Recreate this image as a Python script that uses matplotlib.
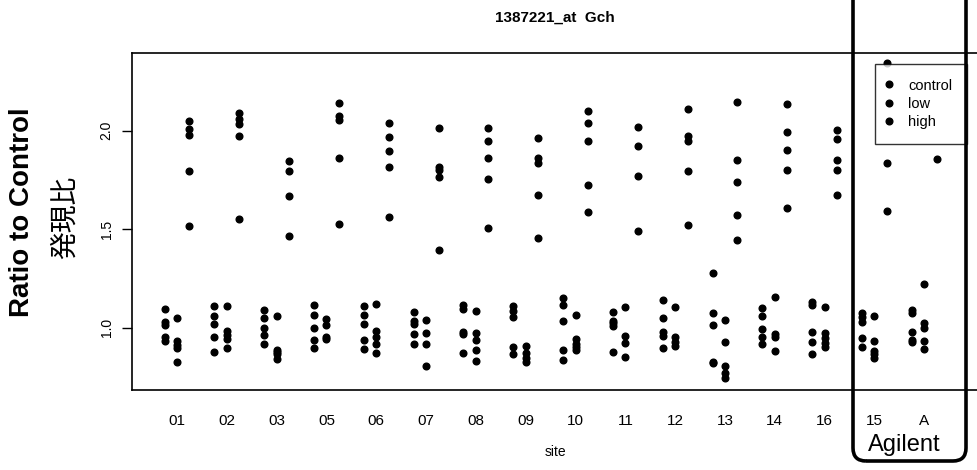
import numpy as np
import matplotlib
matplotlib.use('Agg')
import matplotlib.pyplot as plt
from matplotlib.patches import FancyBboxPatch
from matplotlib.transforms import IdentityTransform

plt.rcParams['font.family'] = ['Liberation Sans', 'DejaVu Sans']

sites = ['01', '02', '03', '05', '06', '07', '08', '09', '10', '11', '12', '13', '14', '16', '15', 'A']

control = [
    [1.095, 1.027, 1.012, 0.954, 0.931],
    [1.109, 1.058, 1.017, 0.954, 0.878],
    [1.090, 1.051, 0.998, 0.961, 0.917],
    [1.115, 1.063, 1.000, 0.938, 0.898],
    [1.110, 1.063, 1.019, 0.938, 0.892],
    [1.078, 1.035, 1.020, 0.966, 0.917],
    [1.115, 1.097, 0.980, 0.968, 0.872],
    [1.110, 1.083, 1.056, 0.904, 0.865],
    [1.149, 1.115, 1.032, 0.885, 0.834],
    [1.078, 1.036, 1.022, 1.010, 0.878],
    [1.141, 1.051, 0.977, 0.960, 0.897],
    [1.279, 1.076, 1.012, 0.826, 0.819],
    [1.098, 1.061, 0.992, 0.953, 0.917],
    [1.129, 1.115, 0.980, 0.929, 0.865],
    [1.073, 1.056, 1.027, 0.946, 0.902],
    [1.090, 1.073, 0.980, 0.938, 0.926],
]

low = [
    [1.051, 0.934, 0.912, 0.895, 0.826],
    [1.109, 0.985, 0.963, 0.941, 0.898],
    [1.058, 0.887, 0.875, 0.865, 0.840],
    [1.044, 1.012, 0.954, 0.941],
    [1.122, 0.985, 0.954, 0.917, 0.873],
    [1.037, 0.975, 0.917, 0.807],
    [1.083, 0.975, 0.936, 0.885, 0.832],
    [0.909, 0.870, 0.848, 0.827],
    [1.063, 0.943, 0.915, 0.900, 0.887],
    [1.107, 0.959, 0.922, 0.853],
    [1.107, 0.951, 0.926, 0.907],
    [1.037, 0.929, 0.806, 0.772, 0.745],
    [1.157, 0.966, 0.951, 0.882],
    [1.107, 0.975, 0.946, 0.921, 0.904],
    [1.059, 0.934, 0.882, 0.865, 0.848],
    [1.222, 1.022, 0.997, 0.934, 0.890],
]

high = [
    [2.051, 2.009, 1.977, 1.795, 1.518],
    [2.088, 2.059, 2.032, 1.974, 1.552],
    [1.847, 1.796, 1.667, 1.467],
    [2.139, 2.075, 2.055, 1.860, 1.525],
    [2.041, 1.970, 1.898, 1.814, 1.563],
    [2.014, 1.817, 1.800, 1.766, 1.394],
    [2.014, 1.949, 1.860, 1.756, 1.504],
    [1.961, 1.860, 1.834, 1.672, 1.454],
    [2.098, 2.039, 1.949, 1.722, 1.587],
    [2.021, 1.923, 1.768, 1.492],
    [2.112, 1.973, 1.945, 1.794, 1.523],
    [2.147, 1.851, 1.741, 1.574, 1.445],
    [2.135, 1.992, 1.902, 1.799, 1.606],
    [2.005, 1.958, 1.851, 1.799, 1.676],
    [2.342, 1.838, 1.594],
    [1.856],
]

groups = [('control', control, -0.25), ('low', low, 0.0), ('high', high, 0.25)]

fig = plt.figure(figsize=(9.77, 4.70), dpi=100)
ax = fig.add_axes([131.7 / 977, 1 - 390 / 470, 1 - 131.7 / 977, (390 - 53) / 470])

xpos = np.arange(1, len(sites) + 1)
for name, data, off in groups:
    xs = []
    ys = []
    for i, vals in enumerate(data):
        xs += [xpos[i] + off] * len(vals)
        ys += vals
    ax.plot(xs, ys, 'o', color='black', markersize=4.8, linestyle='None', label=name)

ax.set_xlim(0.09, 17.06)
ax.set_ylim(0.684, 2.394)

ax.set_xticks(xpos)
ax.set_xticklabels(sites, fontsize=11)
ax.tick_params(axis='x', length=0, pad=17)
ax.set_yticks([1.0, 1.5, 2.0])
ax.set_yticklabels(['1.0', '1.5', '2.0'], rotation=90, va='center', fontsize=10)
ax.tick_params(axis='y', length=7, width=1, pad=6)
ax.spines['right'].set_visible(False)
for s in ['left', 'bottom', 'top']:
    ax.spines[s].set_linewidth(1.2)

# legend box sits over the top right corner, hides some of the 15/A highs
leg = ax.legend(loc='upper right', bbox_to_anchor=(967 / 977, 1 - 64 / 470),
                bbox_transform=fig.transFigure, fontsize=10.5, frameon=True,
                fancybox=False, handlelength=0, handletextpad=1.3,
                labelspacing=0.3, borderpad=1.0, borderaxespad=0)
leg.get_frame().set_edgecolor('black')
leg.get_frame().set_linewidth(1.0)

fig.text(555 / 977, 1 - 18 / 470, '1387221_at  Gch', ha='center', va='center',
         fontsize=11, fontweight='bold')
fig.text(555 / 977, 1 - 452 / 470, 'site', ha='center', va='center', fontsize=10)
fig.text(22 / 977, 1 - 212 / 470, 'Ratio to Control', rotation=90, ha='center',
         va='center', fontsize=20, fontweight='bold')
fig.text(65 / 977, 1 - 217 / 470, '発現比', rotation=90, ha='center', va='center',
         fontsize=20, family=['Noto Sans CJK JP', 'DejaVu Sans'])

# rounded "Agilent" frame, drawn in pixel coordinates
box = FancyBboxPatch((853, 470 - 461), 113, 480, boxstyle='round,pad=0,rounding_size=13',
                     transform=IdentityTransform(), fill=False, edgecolor='black',
                     linewidth=2.6, zorder=5)
fig.add_artist(box)
fig.text(904 / 977, 1 - 445 / 470, 'Agilent', ha='center', va='center', fontsize=17)

fig.savefig('out.png', dpi=100)
